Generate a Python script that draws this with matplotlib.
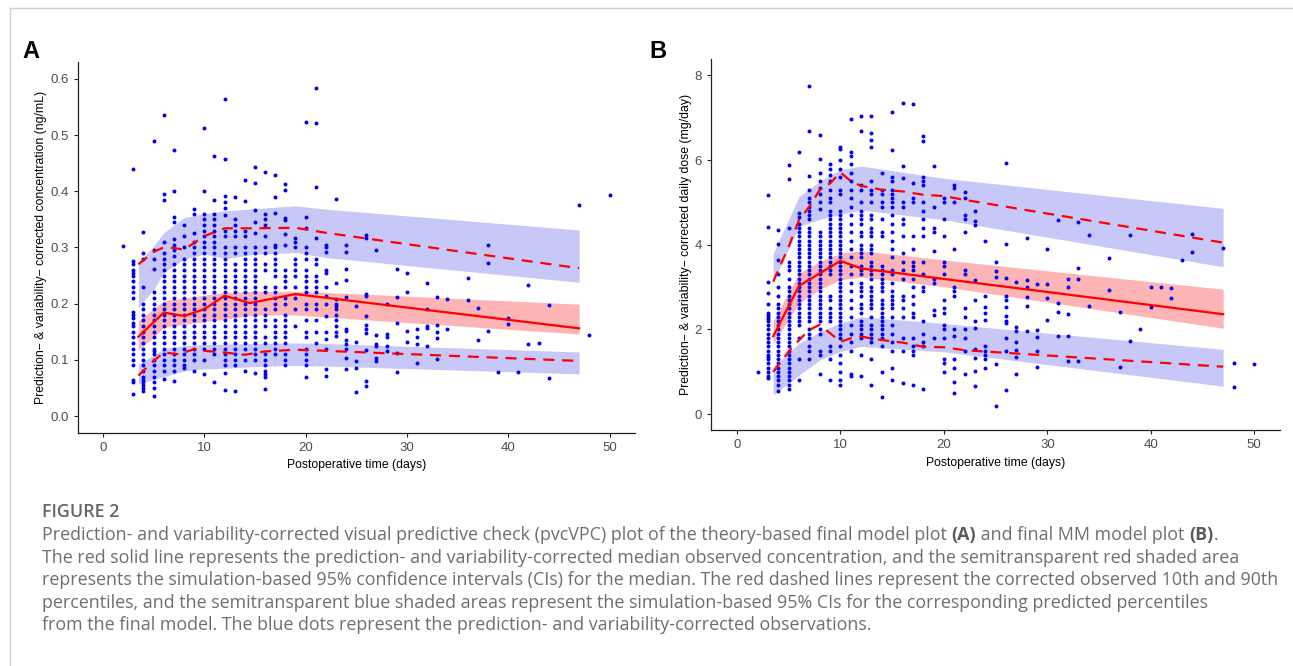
"""
pvcVPC figure: two panels (A: concentration, B: daily dose) with caption.
"""
import numpy as np
import matplotlib
matplotlib.use("Agg")
import matplotlib.pyplot as plt
from matplotlib.lines import Line2D

plt.rcParams['font.family'] = ['Liberation Sans', 'DejaVu Sans']

# =========================================================================
# DATA - panel A (corrected concentration, ng/mL)
# =========================================================================
A_DAYS = [2, 3, 4, 5, 6, 7, 8, 9, 10, 11, 12, 13, 14, 15, 16, 17, 18, 19, 20,
          21, 22, 23, 24, 25, 26, 27, 28, 29, 30, 31, 32, 33, 34, 36, 37, 38,
          39, 40, 41, 42, 43, 44, 47, 48, 50]
A_OBS = [
    [0.303],
    [0.44, 0.275, 0.27, 0.26, 0.255, 0.25, 0.24, 0.23, 0.22, 0.21, 0.185, 0.18, 0.175,
     0.165, 0.16, 0.15, 0.14, 0.13, 0.12, 0.11, 0.10, 0.09, 0.065, 0.06, 0.04],
    [0.327, 0.29, 0.28, 0.23, 0.2, 0.19, 0.18, 0.17, 0.16, 0.15, 0.14, 0.13, 0.12, 0.11,
     0.10, 0.09, 0.08, 0.07, 0.065, 0.06, 0.055, 0.05, 0.045],
    [0.489, 0.296, 0.279, 0.261, 0.22, 0.21, 0.2, 0.19, 0.18, 0.17, 0.16, 0.15, 0.14, 0.13,
     0.12, 0.115, 0.11, 0.1, 0.09, 0.08, 0.07, 0.06, 0.05, 0.035],
    [0.535, 0.395, 0.385, 0.31, 0.29, 0.28, 0.27, 0.26, 0.25, 0.24, 0.23, 0.22, 0.21, 0.2,
     0.19, 0.18, 0.17, 0.16, 0.15, 0.14, 0.13, 0.12, 0.11, 0.1, 0.09, 0.08, 0.066],
    [0.473, 0.4, 0.355, 0.345, 0.315, 0.305, 0.295, 0.285, 0.27, 0.26, 0.25, 0.24, 0.23,
     0.22, 0.21, 0.2, 0.19, 0.18, 0.17, 0.16, 0.15, 0.14, 0.13, 0.12, 0.11, 0.1, 0.09,
     0.08, 0.063],
    [0.34, 0.32, 0.3, 0.28, 0.27, 0.26, 0.25, 0.24, 0.23, 0.22, 0.21, 0.2, 0.19, 0.18,
     0.17, 0.16, 0.15, 0.14, 0.13, 0.12, 0.11, 0.1, 0.09, 0.085],
    [0.368, 0.36, 0.326, 0.31, 0.3, 0.29, 0.28, 0.27, 0.26, 0.25, 0.24, 0.23, 0.22, 0.21,
     0.2, 0.19, 0.18, 0.17, 0.16, 0.15, 0.14, 0.13, 0.12, 0.11, 0.1, 0.08],
    [0.513, 0.4, 0.36, 0.35, 0.34, 0.33, 0.32, 0.31, 0.3, 0.29, 0.28, 0.27, 0.26, 0.25,
     0.24, 0.23, 0.22, 0.21, 0.2, 0.19, 0.18, 0.17, 0.16, 0.15, 0.14, 0.13, 0.12, 0.1,
     0.075],
    [0.463, 0.385, 0.36, 0.35, 0.34, 0.33, 0.32, 0.31, 0.3, 0.29, 0.28, 0.27, 0.26, 0.25,
     0.24, 0.23, 0.22, 0.21, 0.2, 0.19, 0.18, 0.17, 0.16, 0.15, 0.14, 0.13, 0.12, 0.11,
     0.06],
    [0.564, 0.458, 0.392, 0.38, 0.37, 0.357, 0.33, 0.32, 0.3, 0.29, 0.28, 0.27, 0.26, 0.25,
     0.24, 0.23, 0.22, 0.21, 0.2, 0.19, 0.18, 0.17, 0.16, 0.15, 0.14, 0.13, 0.12, 0.11,
     0.1, 0.09, 0.077, 0.046],
    [0.39, 0.35, 0.34, 0.33, 0.32, 0.3, 0.29, 0.27, 0.26, 0.25, 0.24, 0.23, 0.22, 0.21,
     0.2, 0.19, 0.18, 0.17, 0.16, 0.15, 0.14, 0.13, 0.12, 0.11, 0.1, 0.09, 0.044],
    [0.42, 0.382, 0.33, 0.32, 0.3, 0.29, 0.28, 0.27, 0.26, 0.25, 0.24, 0.23, 0.22, 0.21,
     0.2, 0.19, 0.18, 0.17, 0.16, 0.15, 0.14, 0.13, 0.12, 0.1, 0.08],
    [0.443, 0.415, 0.366, 0.345, 0.325, 0.3, 0.29, 0.28, 0.27, 0.26, 0.25, 0.24, 0.23,
     0.22, 0.21, 0.2, 0.19, 0.18, 0.17, 0.16, 0.15, 0.14, 0.13, 0.12, 0.11, 0.1, 0.077],
    [0.434, 0.36, 0.35, 0.34, 0.32, 0.3, 0.29, 0.27, 0.26, 0.23, 0.22, 0.19, 0.18, 0.17,
     0.16, 0.14, 0.13, 0.11, 0.1, 0.09, 0.08, 0.075, 0.07, 0.048],
    [0.428, 0.39, 0.362, 0.305, 0.3, 0.29, 0.28, 0.27, 0.26, 0.25, 0.23, 0.22, 0.21, 0.2,
     0.19, 0.17, 0.16, 0.15, 0.14, 0.13, 0.12, 0.11],
    [0.412, 0.402, 0.352, 0.348, 0.324, 0.305, 0.26, 0.25, 0.24, 0.23, 0.21, 0.2, 0.18,
     0.17, 0.16, 0.15, 0.14, 0.13, 0.11, 0.1, 0.09],
    [0.316, 0.31, 0.3, 0.28, 0.27, 0.26, 0.25, 0.23, 0.21, 0.19, 0.16],
    [0.524, 0.355, 0.335, 0.3, 0.29, 0.28, 0.26, 0.25, 0.24, 0.23, 0.22, 0.2, 0.19, 0.17,
     0.15, 0.14, 0.12, 0.11, 0.1, 0.09, 0.07],
    [0.584, 0.522, 0.408, 0.317, 0.28, 0.27, 0.25, 0.24, 0.23, 0.22, 0.2, 0.19, 0.17,
     0.15, 0.13],
    [0.305, 0.3, 0.292, 0.26, 0.255, 0.229, 0.214, 0.2, 0.178, 0.149, 0.137, 0.119,
     0.084, 0.072],
    [0.387, 0.236, 0.208, 0.2, 0.195, 0.19, 0.18, 0.17, 0.16, 0.15, 0.143],
    [0.304, 0.291, 0.261, 0.242, 0.211, 0.155, 0.152, 0.135, 0.128, 0.12, 0.104, 0.084],
    [0.195, 0.132, 0.098, 0.086, 0.042],
    [0.322, 0.316, 0.217, 0.214, 0.178, 0.162, 0.155, 0.148, 0.118, 0.063, 0.053],
    [0.296, 0.144, 0.128, 0.125, 0.104, 0.098],
    [0.199, 0.146, 0.14, 0.125, 0.116],
    [0.261, 0.211, 0.165, 0.112, 0.079],
    [0.255, 0.22, 0.152, 0.131],
    [0.155, 0.14, 0.128, 0.094],
    [0.236, 0.191, 0.161, 0.156, 0.125],
    [0.211, 0.162, 0.15, 0.138, 0.102],
    [0.209, 0.155],
    [0.246, 0.206],
    [0.193, 0.136],
    [0.304, 0.273, 0.152],
    [0.079],
    [0.174, 0.164],
    [0.078],
    [0.233, 0.128],
    [0.13],
    [0.197, 0.067],
    [0.376],
    [0.144],
    [0.393],
]

A_MED_X = [3.5, 6, 8, 10, 12, 14.5, 19, 47]
A_MED_Y = [0.141, 0.184, 0.178, 0.19, 0.214, 0.201, 0.217, 0.156]
A_P90_X = [3.5, 5, 6, 7, 8, 10, 12, 15, 19, 22, 47]
A_P90_Y = [0.27, 0.292, 0.30, 0.299, 0.296, 0.32, 0.334, 0.334, 0.335, 0.326, 0.263]
A_P10_X = [3.5, 5, 6, 7.5, 9, 10, 12, 14, 16, 19, 22, 47]
A_P10_Y = [0.072, 0.098, 0.113, 0.11, 0.119, 0.116, 0.113, 0.109, 0.115, 0.118, 0.116, 0.098]

A_CI_X = [3.5, 5, 6, 8, 10, 12, 15, 19, 22, 47]
A_HI_LO = [0.193, 0.225, 0.255, 0.279, 0.288, 0.28, 0.288, 0.291, 0.282, 0.238]
A_HI_HI = [0.273, 0.302, 0.326, 0.353, 0.36, 0.365, 0.369, 0.374, 0.368, 0.331]
A_MD_LO = [0.118, 0.14, 0.158, 0.163, 0.168, 0.172, 0.18, 0.18, 0.176, 0.146]
A_MD_HI = [0.17, 0.19, 0.205, 0.21, 0.215, 0.22, 0.222, 0.222, 0.22, 0.199]
A_LO_LO = [0.057, 0.065, 0.07, 0.08, 0.084, 0.085, 0.088, 0.09, 0.089, 0.075]
A_LO_HI = [0.092, 0.108, 0.12, 0.125, 0.127, 0.128, 0.129, 0.13, 0.129, 0.114]

# =========================================================================
# DATA - panel B (corrected daily dose, mg/day)
# =========================================================================
B_DAYS = [2, 3, 4, 5, 6, 7, 8, 9, 10, 11, 12, 13, 14, 15, 16, 17, 18, 19, 20,
          21, 22, 23, 24, 25, 26, 27, 28, 29, 30, 31, 32, 33, 34, 36, 37, 38,
          39, 40, 41, 42, 43, 44, 47, 48, 50]
B_OBS = [
    [0.99],
    [5.18, 4.43, 3.13, 2.85, 2.6, 2.4, 2.35, 2.3, 2.25, 2.2, 2.1, 2.0, 1.9, 1.8, 1.7,
     1.6, 1.5, 1.4, 1.35, 1.3, 1.2, 1.1, 1.0, 0.9, 0.85],
    [4.35, 4.02, 3.65, 3.3, 3.0, 2.78, 2.6, 2.5, 2.4, 2.3, 2.2, 2.1, 2.0, 1.9, 1.8, 1.7,
     1.6, 1.5, 1.4, 1.3, 1.2, 1.1, 1.0, 0.9, 0.8, 0.7, 0.55],
    [5.89, 5.56, 4.4, 3.6, 3.5, 3.4, 3.2, 3.0, 2.9, 2.8, 2.7, 2.6, 2.5, 2.4, 2.3, 2.2,
     2.1, 2.0, 1.9, 1.8, 1.7, 1.6, 1.5, 1.4, 1.3, 1.2, 1.1, 1.0, 0.9, 0.8, 0.7, 0.6],
    [6.2, 4.75, 4.65, 4.5, 4.4, 4.3, 4.2, 4.1, 4.0, 3.9, 3.8, 3.7, 3.6, 3.5, 3.4, 3.3,
     3.2, 3.1, 3.0, 2.9, 2.8, 2.7, 2.6, 2.5, 2.4, 2.3, 2.2, 2.1, 1.8, 1.3, 0.8],
    [7.76, 6.68, 5.62, 5.3, 5.1, 5.0, 4.9, 4.8, 4.7, 4.6, 4.4, 4.3, 4.2, 4.1, 4.0, 3.9,
     3.8, 3.7, 3.6, 3.5, 3.4, 3.3, 3.2, 3.1, 3.0, 2.9, 2.8, 2.7, 2.6, 2.5, 2.4, 2.3,
     2.2, 2.0, 1.9, 1.8, 1.6, 1.5, 1.3],
    [6.6, 6.03, 5.7, 5.5, 5.35, 5.2, 5.0, 4.85, 4.3, 4.2, 4.1, 4.0, 3.9, 3.8, 3.7, 3.6,
     3.5, 3.4, 3.3, 3.2, 3.1, 3.0, 2.9, 2.8, 2.7, 2.6, 2.5, 2.4, 2.3, 2.2, 2.0, 1.9,
     1.5, 1.4, 0.95],
    [5.9, 5.8, 5.65, 5.5, 5.3, 5.1, 5.0, 4.8, 4.7, 4.6, 4.5, 4.4, 4.3, 4.2, 4.1, 4.0,
     3.9, 3.8, 3.7, 3.6, 3.5, 3.4, 3.3, 2.8, 2.7, 2.5, 2.4, 2.3, 2.2, 1.6, 1.5, 1.3, 0.8],
    [6.3, 6.25, 6.0, 5.8, 5.6, 5.3, 5.2, 4.8, 4.7, 4.6, 4.5, 4.4, 4.3, 4.2, 4.1, 4.0,
     3.9, 3.8, 3.7, 3.6, 3.5, 3.4, 3.3, 3.2, 3.1, 3.0, 2.9, 2.8, 2.7, 2.6, 2.5, 2.4,
     2.3, 2.2, 2.1, 2.0, 1.9, 1.8, 1.6, 1.4, 1.2, 1.0, 0.8, 0.7],
    [6.97, 6.2, 6.1, 5.9, 5.7, 5.5, 5.3, 5.1, 4.9, 4.7, 4.5, 4.3, 4.1, 3.9, 3.7, 3.5,
     3.3, 3.1, 2.9, 2.7, 2.5, 2.3, 2.1, 1.9, 1.7, 1.5, 0.95, 0.9],
    [7.03, 6.69, 5.4, 5.3, 5.0, 4.8, 4.7, 4.6, 4.5, 4.3, 4.2, 4.0, 3.9, 3.8, 3.7, 3.5,
     3.4, 3.3, 3.1, 3.0, 2.9, 2.8, 2.6, 2.5, 2.4, 2.2, 2.1, 2.0, 1.9, 1.8, 1.4, 0.9],
    [7.05, 6.64, 6.48, 6.31, 5.5, 5.3, 5.2, 5.0, 4.7, 4.6, 4.4, 4.3, 4.2, 4.0, 3.9, 3.8,
     3.6, 3.5, 3.4, 3.3, 3.2, 3.0, 2.9, 2.8, 2.7, 2.6, 2.5, 2.3, 2.1, 2.0, 1.9, 1.8,
     1.7, 1.3, 0.7],
    [5.7, 5.3, 5.2, 5.0, 4.9, 4.6, 4.3, 4.2, 3.5, 3.4, 3.3, 3.2, 3.1, 3.0, 2.9, 2.7,
     2.6, 2.5, 2.4, 2.3, 2.2, 2.1, 2.0, 1.9, 1.8, 1.6, 1.0, 0.4],
    [7.13, 6.24, 5.6, 5.5, 5.3, 5.2, 5.1, 5.0, 4.9, 4.7, 4.5, 4.3, 4.1, 3.9, 3.7, 3.4,
     3.3, 3.1, 2.9, 2.8, 2.7, 2.6, 2.5, 2.3, 2.1, 1.9, 1.7, 1.5, 1.1, 0.8],
    [7.35, 5.85, 5.57, 5.0, 4.9, 4.6, 4.5, 4.2, 3.8, 3.6, 3.4, 3.2, 2.8, 2.7, 2.5, 2.3,
     1.8, 1.5, 0.74],
    [7.33, 5.45, 5.1, 5.0, 4.2, 3.9, 3.6, 3.5, 3.4, 3.2, 3.0, 2.8, 2.6, 2.4, 2.3, 1.8,
     1.6, 1.5, 1.4, 0.7],
    [6.56, 6.44, 5.6, 5.5, 5.4, 5.0, 4.8, 4.6, 4.4, 4.2, 3.6, 3.3, 3.0, 2.9, 2.2, 1.9,
     1.7, 1.6, 0.6],
    [5.85, 4.9, 4.4, 4.3, 3.85, 3.2, 3.1, 2.45, 2.35, 1.8],
    [5.1, 5.0, 4.6, 4.2, 3.6, 3.5, 3.3, 2.7, 2.5, 2.4, 2.1, 2.0, 1.8, 1.3, 1.2, 1.0],
    [5.4, 5.35, 5.0, 3.9, 3.0, 2.9, 2.8, 2.0, 1.85, 1.3, 1.1, 0.75, 0.5],
    [5.25, 5.1, 4.7, 4.6, 4.3, 3.4, 3.3, 2.5, 2.3, 2.0, 1.8, 1.5, 0.95],
    [4.79, 4.55, 4.47, 3.17, 2.7, 2.19, 2.03, 1.55, 1.32, 1.03, 0.67],
    [4.1, 2.8, 2.54, 2.38, 2.22, 1.6, 1.5, 1.4, 1.3, 1.1],
    [3.6, 3.37, 3.25, 1.18, 0.2],
    [5.94, 4.02, 3.21, 2.8, 2.7, 2.54, 2.32, 2.2, 2.15, 1.79, 1.48, 0.57],
    [3.13, 2.05, 1.97, 1.71, 1.52, 1.34, 0.95],
    [4.15, 3.17, 3.0, 2.76, 2.56, 1.97],
    [3.08, 1.99, 1.83, 1.48, 1.11],
    [3.9, 3.07, 2.74, 2.22],
    [4.59, 2.62, 2.42, 1.85],
    [3.19, 3.01, 2.36, 1.85, 1.26],
    [4.53, 3.45, 3.2, 1.26],
    [4.23, 2.56],
    [3.69, 2.93],
    [2.42, 1.12],
    [4.22, 1.73],
    [2.02],
    [3.0, 2.54],
    [3.01],
    [2.99, 2.75],
    [3.63],
    [4.26, 3.84],
    [3.92],
    [1.2, 0.63],
    [1.18],
]

B_MED_X = [3.5, 6, 10, 12, 47]
B_MED_Y = [1.84, 3.03, 3.62, 3.44, 2.36]
B_P90_X = [3.5, 5, 6, 7, 8, 9, 10, 11, 12, 14, 16, 18, 20, 22, 47]
B_P90_Y = [3.13, 3.96, 4.59, 4.9, 5.3, 5.45, 5.71, 5.5, 5.39, 5.3, 5.26, 5.18, 5.15, 5.06, 4.05]
B_P10_X = [3.5, 5, 6, 7, 8, 9, 10, 11, 12, 14, 16, 18, 20, 22, 47]
B_P10_Y = [1.0, 1.48, 1.75, 1.99, 2.11, 1.91, 1.71, 1.79, 1.83, 1.75, 1.69, 1.59, 1.58, 1.51, 1.12]

B_CI_X = [3.5, 6, 8, 10, 12, 20, 47]
B_HI_LO = [3.13, 4.43, 4.6, 4.72, 4.82, 4.59, 3.48]
B_HI_HI = [3.8, 5.14, 5.5, 5.77, 5.86, 5.57, 4.86]
B_MD_LO = [1.67, 2.62, 2.95, 3.17, 3.24, 3.01, 2.03]
B_MD_HI = [2.2, 3.33, 3.6, 3.8, 3.86, 3.64, 2.95]
B_LO_LO = [0.45, 0.92, 1.28, 1.48, 1.6, 1.47, 0.66]
B_LO_HI = [1.12, 1.67, 1.95, 2.15, 2.3, 2.14, 1.53]

# caption: each line is a list of (text, bold) pieces
CAPTION_HEAD = "FIGURE 2"
CAPTION_LINES = [
    [("Prediction- and variability-corrected visual predictive check (pvcVPC) plot of the theory-based final model plot ", False),
     ("(A)", True), (" and final MM model plot ", False), ("(B)", True), (".", False)],
    [("The red solid line represents the prediction- and variability-corrected median observed concentration, and the semitransparent red shaded area", False)],
    [("represents the simulation-based 95% confidence intervals (CIs) for the median. The red dashed lines represent the corrected observed 10th and 90th", False)],
    [("percentiles, and the semitransparent blue shaded areas represent the simulation-based 95% CIs for the corresponding predicted percentiles", False)],
    [("from the final model. The blue dots represent the prediction- and variability-corrected observations.", False)],
]

# =========================================================================
# PLOTTING
# =========================================================================
BLUE_BAND = '#c8c8f8'
RED_BAND = '#fdb4b4'
TICK_GRAY = '#4d4d4d'
CAP_FONT = ['Open Sans', 'DejaVu Sans']
CAP_SIZE = 12.9


def draw_panel(ax, days, obs, ci_x, bands, med, p90, p10, ylabel, yticks, ylim):
    xs = [d for d, col in zip(days, obs) for _ in col]
    ys = [v for col in obs for v in col]
    ax.fill_between(ci_x, bands[0], bands[1], color=BLUE_BAND, lw=0, zorder=1)
    ax.fill_between(ci_x, bands[2], bands[3], color=RED_BAND, lw=0, zorder=1)
    ax.fill_between(ci_x, bands[4], bands[5], color=BLUE_BAND, lw=0, zorder=1)
    ax.scatter(xs, ys, s=8, color='#0000ee', lw=0, zorder=2)
    ax.plot(med[0], med[1], color='#ff0000', lw=1.6, zorder=3)
    for px, py in (p90, p10):
        ax.plot(px, py, color='#ff0000', lw=1.6, dashes=(5, 3.5), zorder=3)

    ax.set_xlim(-2.5, 52.5)
    ax.set_ylim(*ylim)
    ax.set_xticks([0, 10, 20, 30, 40, 50])
    ax.set_yticks(yticks)
    ax.spines['top'].set_visible(False)
    ax.spines['right'].set_visible(False)
    for s in ('left', 'bottom'):
        ax.spines[s].set_linewidth(0.9)
        ax.spines[s].set_color('#222222')
    ax.tick_params(labelsize=9.5, colors=TICK_GRAY, length=3, width=0.8)
    ax.tick_params(labelcolor=TICK_GRAY, color='#222222')
    ax.set_xlabel("Postoperative time (days)", fontsize=8.8, labelpad=4)
    ax.set_ylabel(ylabel, fontsize=8.8, labelpad=2)


fig = plt.figure(figsize=(12.93, 6.66), dpi=100)

axA = fig.add_axes([0.060, 0.350, 0.431, 0.557])
draw_panel(axA, A_DAYS, A_OBS, A_CI_X,
           (A_HI_LO, A_HI_HI, A_MD_LO, A_MD_HI, A_LO_LO, A_LO_HI),
           (A_MED_X, A_MED_Y), (A_P90_X, A_P90_Y), (A_P10_X, A_P10_Y),
           "Prediction\u2212 & variability\u2212 corrected concentration (ng/mL)",
           [0.0, 0.1, 0.2, 0.3, 0.4, 0.5, 0.6], (-0.03, 0.63))
axA.yaxis.set_major_formatter(matplotlib.ticker.FormatStrFormatter('%.1f'))

axB = fig.add_axes([0.550, 0.354, 0.440, 0.557])
draw_panel(axB, B_DAYS, B_OBS, B_CI_X,
           (B_HI_LO, B_HI_HI, B_MD_LO, B_MD_HI, B_LO_LO, B_LO_HI),
           (B_MED_X, B_MED_Y), (B_P90_X, B_P90_Y), (B_P10_X, B_P10_Y),
           "Prediction\u2212 & variability\u2212 corrected daily dose (mg/day)",
           [0, 2, 4, 6, 8], (-0.38, 8.38))

fig.text(22 / 1293, 1 - 52 / 666, "A", fontsize=17, fontweight='bold', va='center')
fig.text(649 / 1293, 1 - 51 / 666, "B", fontsize=17, fontweight='bold', va='center')

# caption
renderer = fig.canvas.get_renderer()
W = fig.bbox.width
X0 = 42 / W


def text_width(s, bold):
    # width of s in figure fraction; the bar keeps trailing spaces counted
    t1 = fig.text(0, 0, s + "|", fontsize=CAP_SIZE, family=CAP_FONT,
                  fontweight='bold' if bold else 'normal')
    t2 = fig.text(0, 0, "|", fontsize=CAP_SIZE, family=CAP_FONT,
                  fontweight='bold' if bold else 'normal')
    w = t1.get_window_extent(renderer).width - t2.get_window_extent(renderer).width
    t1.remove()
    t2.remove()
    return w / W


fig.text(X0, 1 - 512 / 666, CAPTION_HEAD, fontsize=CAP_SIZE, color='#666666',
         fontweight='semibold', va='center', family=CAP_FONT)
for i, pieces in enumerate(CAPTION_LINES):
    y = 1 - (535 + 22.6 * i) / 666
    x = X0
    for s, bold in pieces:
        fig.text(x, y, s, fontsize=CAP_SIZE, color='#5a5a5a' if bold else '#6e6e6e',
                 fontweight='bold' if bold else 'normal', va='center', family=CAP_FONT)
        x += text_width(s, bold)

# page frame lines
fig.add_artist(Line2D([10 / 1293, 10 / 1293], [0, 1 - 8 / 666], color='#d0d0d0', lw=1))
fig.add_artist(Line2D([10 / 1293, 1], [1 - 8 / 666, 1 - 8 / 666], color='#d0d0d0', lw=1))

fig.savefig("out.png", dpi=100)
